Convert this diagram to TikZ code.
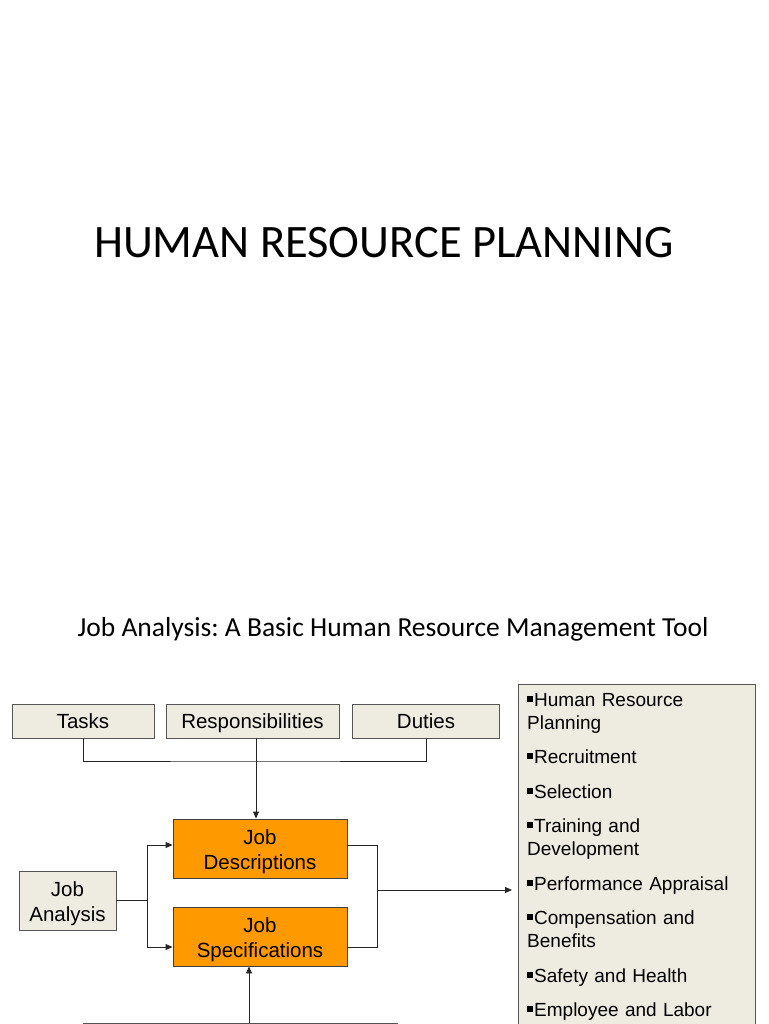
\documentclass[tikz,border=0pt]{standalone}
\usepackage{fontspec}
\setmainfont{Liberation Sans}
\newfontfamily\calfont{Carlito}
\usepackage{tikz}
\usetikzlibrary{
  calc,
  arrows.meta,
  positioning}

\definecolor{boxbeige}{RGB}{238,236,225}
\definecolor{boxline}{RGB}{85,85,85}
\definecolor{joborange}{RGB}{255,153,0}

\newcommand{\sq}{\rule[4.5pt]{6pt}{6pt}\hspace{1pt}}
\newcommand{\tstrut}{\rule{0pt}{21pt}}
\frenchspacing

\begin{document}
\begin{tikzpicture}[x=1pt,y=-1pt]
  \tikzset{plainbox/.style={draw=boxline,
                            fill=boxbeige,
                            line width=0.9pt,
                            rectangle,
                            inner sep=0pt,
                            align=center,
                            font=\fontsize{20.5}{25}\selectfont},
           onebox/.style={plainbox,
                          text height=16pt,
                          text depth=2pt},
           jobbox/.style={plainbox,
                          draw=black!75,
                          fill=joborange},
           link/.style={draw=black!85,line width=0.9pt},
           arr/.style={link,-{Triangle[length=7pt,width=6pt]}}
           }

\useasboundingbox (0,0) rectangle (768,1024);
\clip (0,0) rectangle (768,1024);

%%%%%%%%%%%%%%%%%%%%%%%%%%%%%%%%%%%%%%%%%%%%%%%%%%%%%%%%%%%%%%%%%%%%%%%%%%%%%%

\node[anchor=base,font=\calfont\fontsize{46.5}{50}\selectfont] (title) at (384,258) {HUMAN RESOURCE PLANNING};

\node[anchor=base,font=\calfont\fontsize{27.5}{30}\selectfont] (subtitle) at (393,636) {Job Analysis: A Basic Human Resource Management Tool};

%%%%%%%%%%%%%%%%%%%%%%%%%%%%%%%%%%%%%%%%%%%%%%%%%%%%%%%%%%%%%%%%%%%%%%%%%%%%%%

\node[onebox,minimum width=142,minimum height=34] (T) at (83,721) {Tasks};

\node[onebox,minimum width=173,minimum height=34] (R) at (252.5,721) {Responsibilities};

\node[onebox,minimum width=147,minimum height=34] (D) at (426,721) {Duties};

\node[jobbox,minimum width=174,minimum height=59] (JD) at (260,848.5) {\tstrut Job\\Descriptions};

\node[jobbox,minimum width=174,minimum height=59] (JS) at (260,936.5) {\tstrut Job\\Specifications};

\node[plainbox,minimum width=97,minimum height=59] (JA) at (67.5,900.5) {\tstrut Job\\Analysis};

\node[plainbox,minimum width=314,minimum height=60,anchor=north] (B) at (240,1023) {};

\node[plainbox,minimum width=237,minimum height=400,anchor=north west] (L) at (518,684) {};

\node[anchor=north west,inner sep=0pt,align=left,text width=225,
      font=\fontsize{19}{23}\selectfont] (items) at (527,693) {%
\sq Human Resource\\Planning\\[11.5pt]
\sq Recruitment\\[11.5pt]
\sq Selection\\[11.5pt]
\sq Training and\\Development\\[11.5pt]
\sq Performance Appraisal\\[11.5pt]
\sq Compensation and\\Benefits\\[11.5pt]
\sq Safety and Health\\[11.5pt]
\sq Employee and Labor};

%%%%%%%%%%%%%%%%%%%%%%%%%%%%%%%%%%%%%%%%%%%%%%%%%%%%%%%%%%%%%%%%%%%%%%%%%%%%%%

\coordinate (top join) at (256,761);
\coordinate (split) at (JA.east -| 147,0);
\coordinate (merge) at (377,890);

\draw[link]  (T.south) |- (top join) -| (D.south);
\draw[arr]   (R.south -| top join) -- (JD.north -| top join);

\draw[link]  (JA.east) -- (split);
\draw[arr]   (split) |- ($(JD.west)+(0,-3.5)$);
\draw[arr]   (split) |- ($(JS.west)+(0,10.5)$);

\draw[link]  ($(JD.east)+(0,-3.5)$) -| (merge);
\draw[link]  ($(JS.east)+(0,10.5)$) -| (merge);
\draw[arr]   (merge) -- ($(merge -| L.west)+(-6,0)$);

\draw[arr]   ($(B.north)+(9,0)$) -- ($(JS.south)+(-11,0)$);

%%%%%%%%%%%%%%%%%%%%%%%%%%%%%%%%%%%%%%%%%%%%%%%%%%%%%%%%%%%%%%%%%%%%%%%%%%%%%%

\end{tikzpicture}
\end{document}
